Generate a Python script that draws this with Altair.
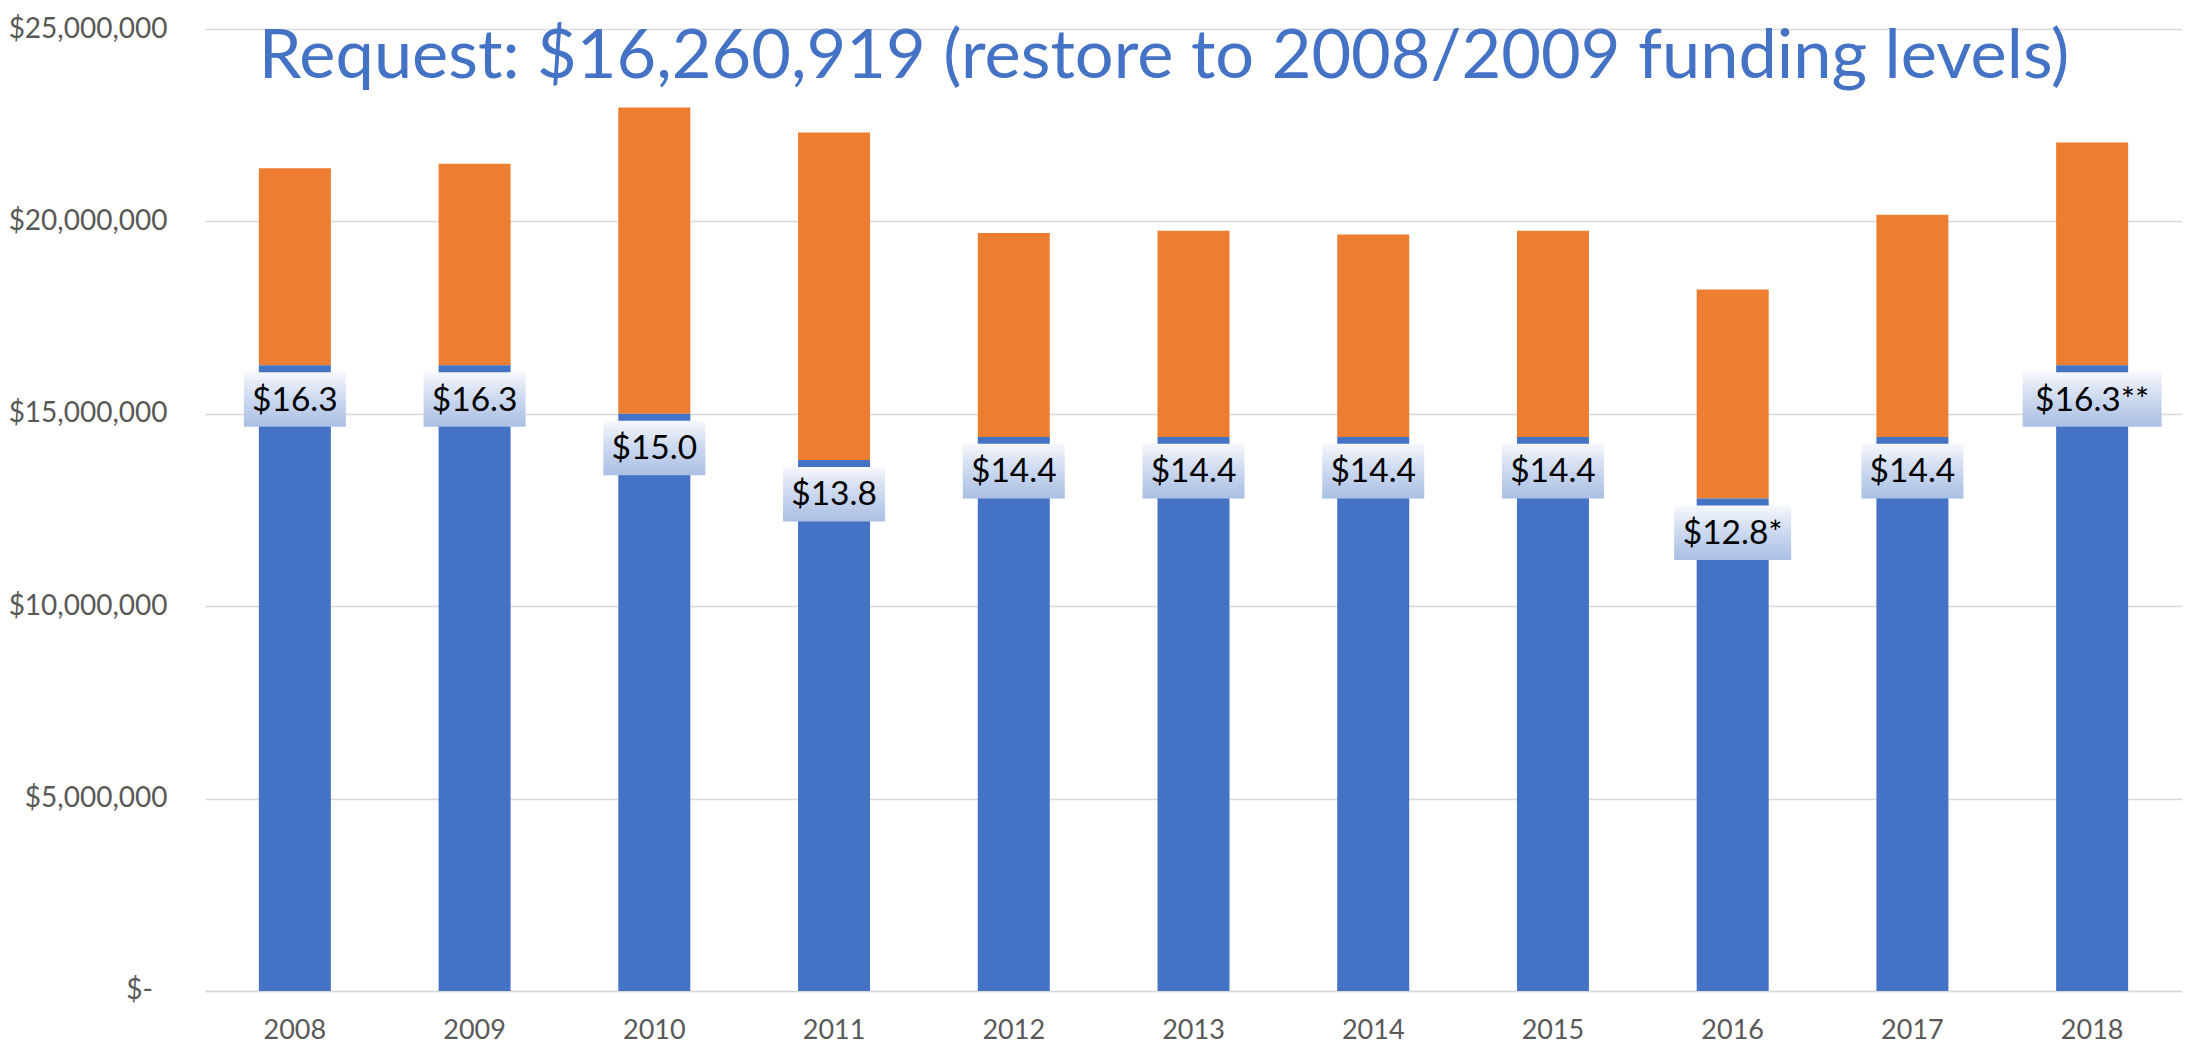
import altair as alt
import pandas as pd

years = ["2008", "2009", "2010", "2011", "2012", "2013", "2014", "2015", "2016", "2017", "2018"]
state = [16260919, 16260919, 15000000, 13800000, 14400000, 14400000, 14400000, 14400000, 12800000, 14400000, 16260919]
total = [21380000, 21500000, 22960000, 22310000, 19700000, 19760000, 19660000, 19760000, 18230000, 20170000, 22050000]
labels = ["$16.3", "$16.3", "$15.0", "$13.8", "$14.4", "$14.4", "$14.4", "$14.4", "$12.8*", "$14.4", "$16.3**"]
title_text = "Request: $16,260,919 (restore to 2008/2009 funding levels)"

df = pd.DataFrame({"year": years, "state": state, "total": total, "label": labels})

W, H = 1977, 962
FONT = "Lato"
BLUE = "#4472C4"
ORANGE = "#ED7D31"

x = alt.X("year:N", title=None, sort=years,
          scale=alt.Scale(paddingInner=0.6, paddingOuter=0.3),
          axis=alt.Axis(labelAngle=0, labelFont=FONT, labelFontSize=27, labelColor="#595959",
                        ticks=False, labelPadding=26, domainColor="#d9d9d9", domainWidth=1.5))
yscale = alt.Scale(domain=[0, 25000000], nice=False, zero=True)
yaxis = alt.Axis(title=None, values=[0, 5000000, 10000000, 15000000, 20000000, 25000000],
                 labelExpr="datum.value == 0 ? '' : '$' + format(datum.value, ',')",
                 labelFont=FONT, labelFontSize=28, labelColor="#595959", ticks=False,
                 domain=False, gridColor="#d9d9d9", gridWidth=1.5, labelPadding=38)

base = alt.Chart(df)

blue = base.mark_bar(color=BLUE, size=72).encode(
    x=x, y=alt.Y("state:Q", scale=yscale, axis=yaxis))
orange = base.mark_bar(color=ORANGE, size=72).encode(
    x=x, y=alt.Y("state:Q", scale=yscale), y2="total:Q")

grad = alt.LinearGradient(
    gradient="linear",
    stops=[alt.GradientStop(color="#f6f8fc", offset=0),
           alt.GradientStop(color="#cbd8ef", offset=0.5),
           alt.GradientStop(color="#a9bfe4", offset=1)],
    x1=0, x2=0, y1=0, y2=1)

boxbase = base.transform_calculate(
    btop="datum.state - 180000", bbot="datum.state - 1600000", bmid="datum.state - 890000")

boxes = []
for n, w in [(5, 102), (6, 117), (7, 139)]:
    boxes.append(boxbase.transform_filter(f"length(datum.label) == {n}").mark_bar(
        color=grad, width=w).encode(
        x=x, y=alt.Y("btop:Q", scale=yscale), y2="bbot:Q"))

texts = boxbase.mark_text(font=FONT, fontSize=33.5, color="black", baseline="middle", dy=1).encode(
    x=x, y=alt.Y("bmid:Q", scale=yscale), text="label:N")

zero_label = alt.Chart(pd.DataFrame({"v": [0], "t": ["$-"]})).mark_text(
    font=FONT, fontSize=28, color="#595959", align="right", baseline="middle").encode(
    x=alt.value(-52), y=alt.Y("v:Q", scale=yscale), text="t:N")

title = alt.Chart(pd.DataFrame({"t": [title_text]})).mark_text(
    font=FONT, fontSize=68.5, color=BLUE, align="center", baseline="alphabetic").encode(
    x=alt.value(959), y=alt.value(49), text="t:N")

chart = alt.layer(orange, blue, *boxes, texts, zero_label, title).properties(
    width=W, height=H,
    autosize=alt.AutoSizeParams(type="none"),
    padding={"left": 197, "top": 21, "right": 0, "bottom": 53},
).configure_view(stroke=None)

chart.save("out.html", embed_options={"renderer": "svg", "actions": False})
